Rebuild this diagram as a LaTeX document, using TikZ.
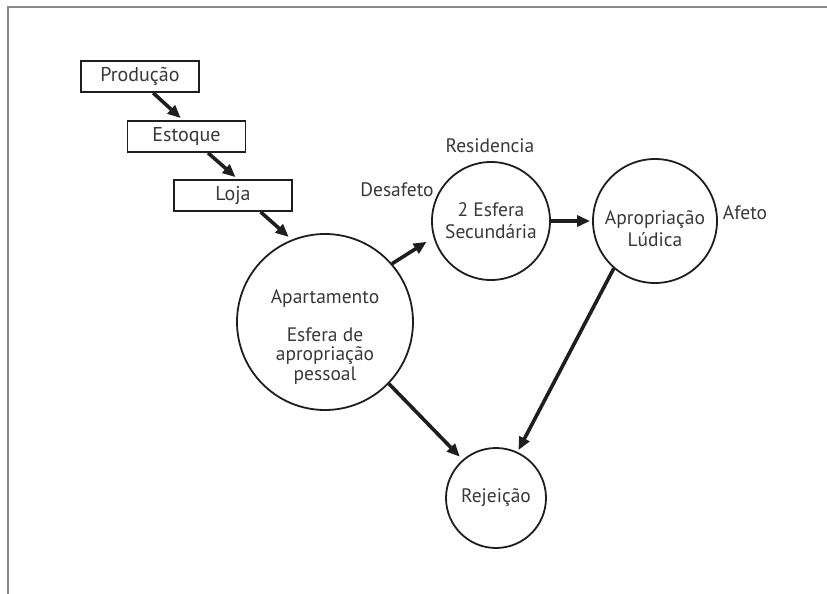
\documentclass[tikz,border=0pt]{standalone}
\usepackage{fontspec}
\setmainfont{PT Sans}
\usetikzlibrary{arrows.meta,calc}
\definecolor{ink}{HTML}{1E1E1E}
\definecolor{txt}{HTML}{383838}
\definecolor{frame}{HTML}{8A8A8A}
\tikzset{
  boxnode/.style={draw=ink,line width=1.8pt,minimum width=118pt,minimum height=31pt,inner sep=0pt,text=txt,font=\fontsize{20}{22}\selectfont},
  circnode/.style={draw=ink,line width=1.8pt,circle,inner sep=0pt},
  lbl/.style={text=txt,font=\fontsize{19.5}{22}\selectfont,inner sep=0pt,align=center},
  flow/.style={draw=ink,line width=3.6pt,-{Triangle[length=13pt,width=11pt]}},
}
\begin{document}
\begin{tikzpicture}[x=1pt,y=-1pt]
\useasboundingbox (0,0) rectangle (827,594);
\draw[frame,line width=2pt] (8,594) -- (8,7) -- (827,7);
\node[boxnode] (prod) at (140,76.5) {Produção};
\node[boxnode] (est) at (186.5,136.5) {Estoque};
\node[boxnode] (loja) at (233,195.5) {Loja};
\node[circnode,minimum size=176pt] (apt) at (325,322) {};
\node[circnode,minimum size=118pt] (esf) at (491,221) {};
\node[circnode,minimum size=124pt] (apr) at (655,221) {};
\node[circnode,minimum size=100pt] (rej) at (496,498) {};
\node[lbl] (aptA) at (325,299) {Apartamento};
\node[lbl,font=\fontsize{19.5}{19.5}\selectfont] (aptB) at (325,356) {Esfera de\\apropriação\\pessoal};
\node[lbl] (esfT) at (491,221) {2 Esfera\\Secundária};
\node[lbl] (aprT) at (655,229) {Apropriação\\Lúdica};
\node[lbl] (rejT) at (496,498) {Rejeição};
\node[lbl] (res) at (490,146) {Residencia};
\node[lbl] (desaf) at (397,190) {Desafeto};
\node[lbl] (afeto) at (745,213) {Afeto};
\coordinate (p1) at ($(prod.south west)!0.61!(prod.south east)$);
\coordinate (e1) at ($(est.north west)!0.47!(est.north east)$);
\coordinate (e2) at ($(est.south west)!0.68!(est.south east)$);
\coordinate (l1) at ($(loja.north west)!0.54!(loja.north east)$);
\coordinate (l2) at ($(loja.south west)!0.73!(loja.south east)$);
\draw[flow,shorten >=3pt] (p1) -- (e1);
\draw[flow,shorten >=3pt] (e2) -- (l1);
\draw[flow,shorten >=4pt] (l2) -- (apt.112);
\draw[flow,shorten >=8pt] (apt.41) -- (esf.196);
\draw[flow,shorten >=2pt] (esf.east) -- (apr.west);
\draw[flow,shorten >=4pt] (apt.-44) -- (rej.131);
\draw[flow,shorten >=2pt] (apr.229) -- (rej.65);
\end{tikzpicture}
\end{document}
